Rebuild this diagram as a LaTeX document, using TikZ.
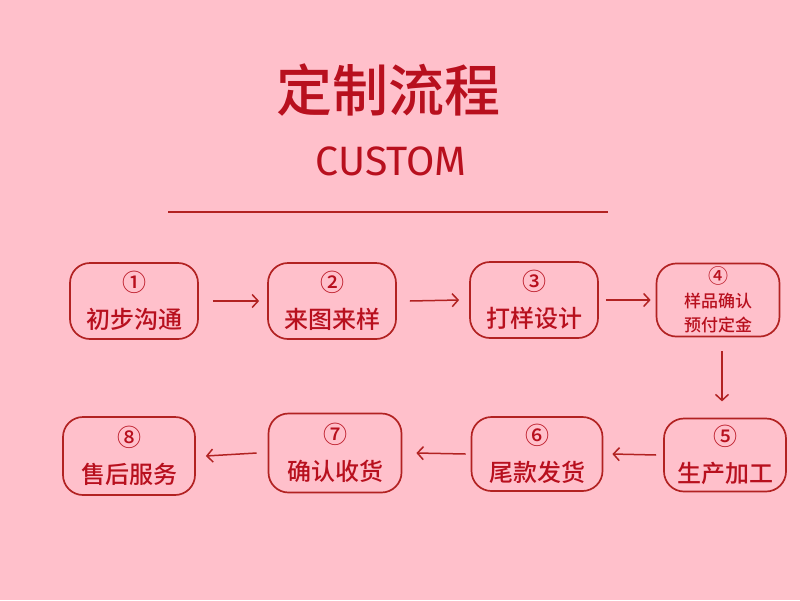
\documentclass[tikz,border=0pt]{standalone}
\usepackage{fontspec}
\usepackage{xcolor}
\usetikzlibrary{arrows.meta,positioning}
\newfontfamily\cjk{Noto Sans CJK SC}[UprightFont={* Medium}]
\newfontfamily\latin{Fira Sans}
\definecolor{bgpink}{HTML}{FFC0CB}
\definecolor{deepred}{HTML}{B8101E}
\definecolor{linered}{HTML}{B22222}

\begin{document}
\begin{tikzpicture}[x=1pt,y=-1pt,
  stepbox/.style={draw=linered,line width=1.7pt,rounded corners=20pt,
    minimum width=128pt,minimum height=76pt,align=center,text=deepred,
    font=\cjk\fontsize{24}{37}\selectfont},
  smallbox/.style={stepbox,font=\cjk\fontsize{17}{24}\selectfont},
  flow/.style={draw=linered,line width=1.5pt,-{Straight Barb[length=6pt,width=13pt]}}]
\fill[bgpink] (0,0) rectangle (800,600);
\useasboundingbox (0,0) rectangle (800,600);
% title
\node[text=deepred,font=\cjk\fontsize{56}{60}\selectfont] (title) at (388,90) {定制流程};
\node[text=deepred,font=\latin\fontsize{41}{44}\selectfont] (sub) at (391,161) {CUSTOM};
\draw[linered,line width=1.6pt] (168,212) -- (608,212);
% top row
\node[stepbox] (s1) at (134,301) {①\\初步沟通};
\node[stepbox] (s2) at (332,301) {②\\来图来样};
\node[stepbox] (s3) at (534,300) {③\\打样设计};
\node[smallbox,minimum width=123pt,minimum height=73pt] (s4) at (718,300) {{\fontsize{20}{24}\selectfont ④}\\样品确认\\预付定金};
% bottom row
\node[stepbox,minimum width=122pt,minimum height=73pt] (s5) at (725,455) {⑤\\生产加工};
\node[stepbox,minimum width=131pt,minimum height=74pt] (s6) at (537,454) {⑥\\尾款发货};
\node[stepbox,minimum width=133pt,minimum height=79pt] (s7) at (335,453) {⑦\\确认收货};
\node[stepbox,minimum width=132pt,minimum height=78pt] (s8) at (129,456) {⑧\\售后服务};
% arrows
\draw[flow] ([xshift=14pt]s1.east) -- ([xshift=-8pt]s2.west);
\draw[flow] ([xshift=13pt]s2.east) -- ([xshift=-10pt]s3.west);
\draw[flow] ([xshift=7pt]s3.east) -- ([xshift=-5pt]s4.west);
\draw[flow] ([xshift=4pt,yshift=-14pt]s4.south) -- ([xshift=4pt,yshift=-64pt]s4.south);
\draw[flow] ([xshift=-7pt]s5.west) -- ([xshift=9pt]s6.east);
\draw[flow] ([xshift=-5pt]s6.west) -- ([xshift=14pt]s7.east);
\draw[flow] ([xshift=-11pt]s7.west) -- ([xshift=10pt]s8.west -| s8.east);
\end{tikzpicture}
\end{document}
